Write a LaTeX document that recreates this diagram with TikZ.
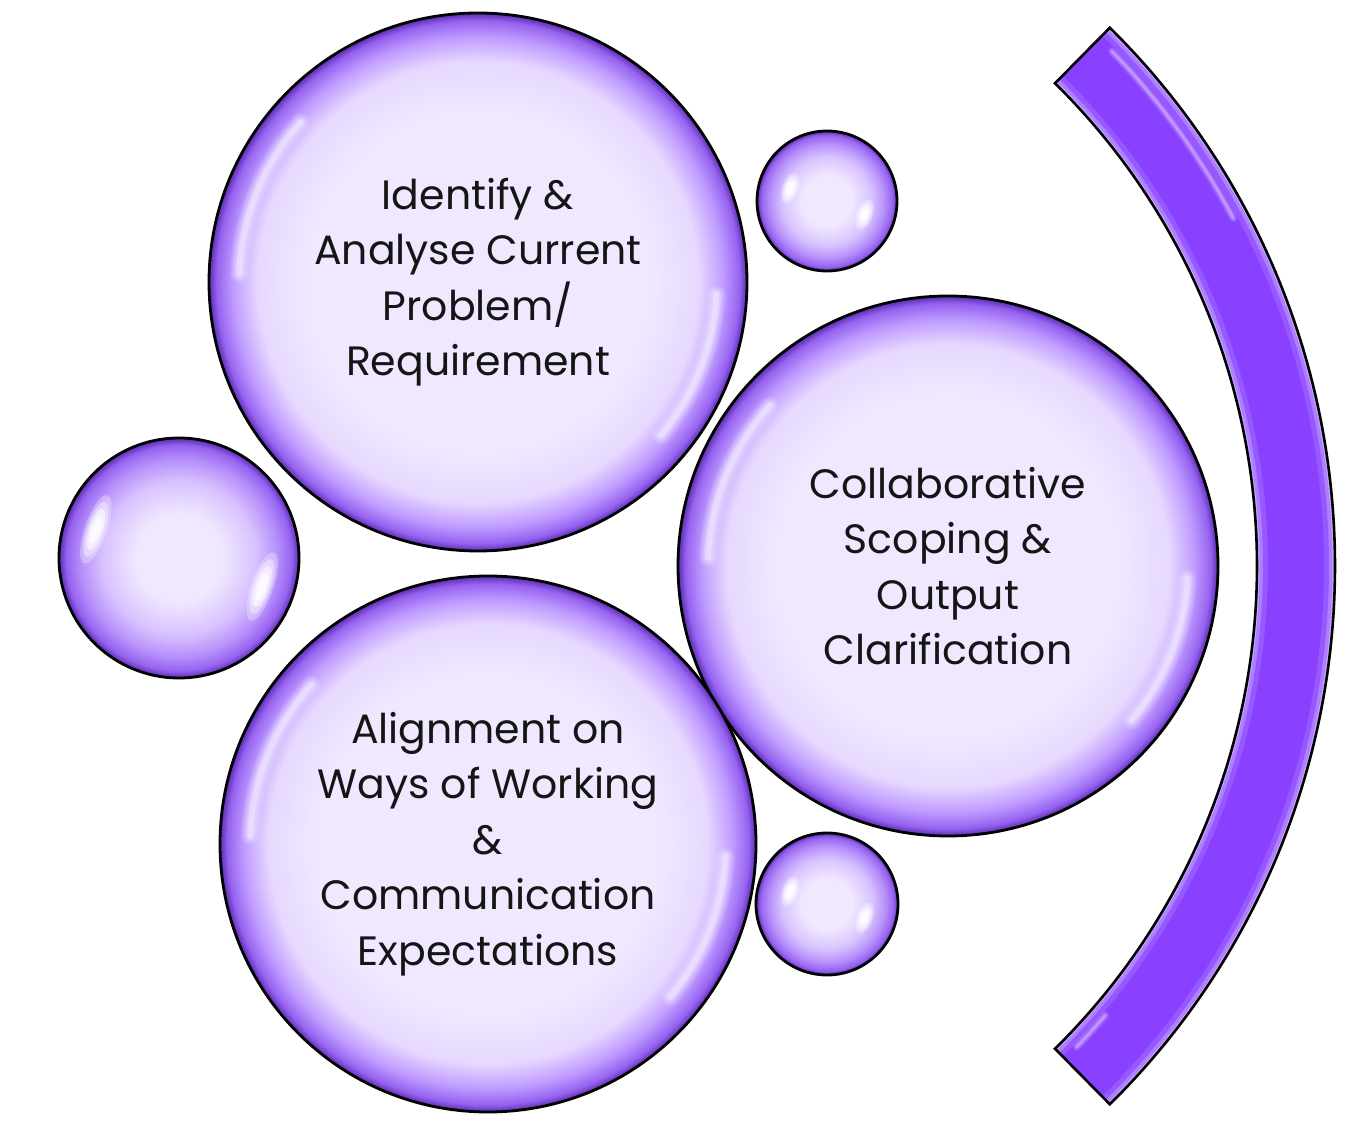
\documentclass[tikz,border=0pt]{standalone}
\usepackage{fontspec}
\setmainfont{Poppins}
\definecolor{bubC}{HTML}{F0E8FF}
\definecolor{bubC2}{HTML}{E6D8FF}
\definecolor{bubM}{HTML}{BF9BFF}
\definecolor{bubE}{HTML}{9662F0}
\definecolor{bubD}{HTML}{5A2CB0}
\definecolor{sbA}{HTML}{D8C2FF}
\definecolor{sbB}{HTML}{B690FA}
\definecolor{bandA}{HTML}{C9A8FF}
\definecolor{bandB}{HTML}{AE80FF}
\definecolor{bandC}{HTML}{9659FF}
\definecolor{bandD}{HTML}{8A40FF}
\definecolor{txt}{HTML}{151515}
\pgfdeclareradialshading{bigbub}{\pgfpoint{0bp}{0bp}}{color(0bp)=(bubC); color(16bp)=(bubC); color(20.5bp)=(bubC2); color(22.8bp)=(bubM); color(24.3bp)=(bubE); color(25bp)=(bubD); color(50bp)=(bubD)}
\pgfdeclareradialshading{smallbub}{\pgfpoint{0bp}{0bp}}{color(0bp)=(bubC); color(9bp)=(bubC); color(16bp)=(sbA); color(20.5bp)=(sbB); color(23.5bp)=(bubE); color(25bp)=(bubD); color(50bp)=(bubD)}
\newcommand{\bubtxt}{\fontsize{41}{55.5}\selectfont}
\newcommand{\glossarc}[6]{%
  \foreach \glw/\glo in {1/0.12, 0.75/0.16, 0.5/0.22, 0.3/0.3}{%
    \draw[white, opacity=\glo, line width=\glw*#6, line cap=round]
      ([shift={(#1,#2)}]#4:#3) arc[start angle=#4, end angle=#5, radius=#3];
  }}
\newcommand{\glossell}[6]{%
  \begin{scope}[shift={(#1,#2)}, rotate=#3]
    \foreach \gls/\glo in {1/0.3, 0.8/0.4, 0.6/0.55, 0.4/0.75}{%
      \fill[white, opacity=\glo] (#4,0) ellipse [x radius=\gls*#5, y radius=\gls*#6];
    }
  \end{scope}}
\tikzset{
  bigbubble/.style={circle, draw=black, line width=2.8pt, shade, shading=bigbub,
    inner sep=0pt, minimum size=#1, font=\bubtxt, text=txt, align=center},
  smallbubble/.style={circle, draw=black, line width=2.8pt, shade, shading=smallbub,
    inner sep=0pt, minimum size=#1},
}
\begin{document}
\begin{tikzpicture}[x=1pt, y=1pt]
\useasboundingbox (0,0) rectangle (1370,1141);
\fill[white] (0,0) rectangle (1370,1141);

% bracket band
\foreach \bw/\bc in {78/bandA, 73/bandB, 66/bandC, 56/bandD}{%
  \draw[line width=\bw pt, color=\bc] ([shift={(579,575)}]-45.4:717) arc[start angle=-45.4, end angle=45.4, radius=717];
}
\foreach \glw/\glo in {8/0.12, 5/0.18, 2.5/0.25}{%
  \draw[white, opacity=\glo, line width=\glw pt, line cap=round] ([shift={(579,575)}]44.0:741) arc[start angle=44.0, end angle=28, radius=741];
  \draw[white, opacity=\glo, line width=\glw pt, line cap=round] ([shift={(579,575)}]-44.0:692) arc[start angle=-44.0, end angle=-40.5, radius=692];
}
\draw[black, line width=2.6pt, line join=miter]
  ([shift={(579,575)}]-45.4:678) arc[start angle=-45.4, end angle=45.4, radius=678]
  -- ([shift={(579,575)}]45.4:756) arc[start angle=45.4, end angle=-45.4, radius=756] -- cycle;

% big bubble 1
\node[bigbubble=538pt] (c1) at (478,859) {Identify \&\\Analyse Current\\Problem/\\Requirement};
\glossarc{478}{859}{239}{138}{178}{18pt}
\glossarc{478}{859}{239}{-3}{-40}{18pt}

% big bubble 2
\node[bigbubble=540pt] (c2) at (948,575) {Collaborative\\Scoping \&\\Output\\Clarification};
\glossarc{948}{575}{240}{138}{178}{18pt}
\glossarc{948}{575}{240}{-3}{-40}{18pt}

% small bubbles
\node[smallbubble=140pt] (s1) at (827,940) {};
\glossell{827}{940}{161}{39}{8}{16}
\glossell{827}{940}{-20}{40}{8}{16}

\node[smallbubble=240pt] (s2) at (179,583) {};
\glossell{179}{583}{161}{88}{11}{36}
\glossell{179}{583}{-19}{88}{11}{36}

\node[smallbubble=142pt] (s3) at (827,237) {};
\glossell{827}{237}{161}{39}{8}{16}
\glossell{827}{237}{-20}{40}{8}{16}

% big bubble 3
\node[bigbubble=536pt] (c3) at (488,297) {Alignment on\\Ways of Working\\\&\\Communication\\Expectations};
\glossarc{488}{297}{238}{138}{178}{18pt}
\glossarc{488}{297}{238}{-3}{-40}{18pt}
\end{tikzpicture}
\end{document}
